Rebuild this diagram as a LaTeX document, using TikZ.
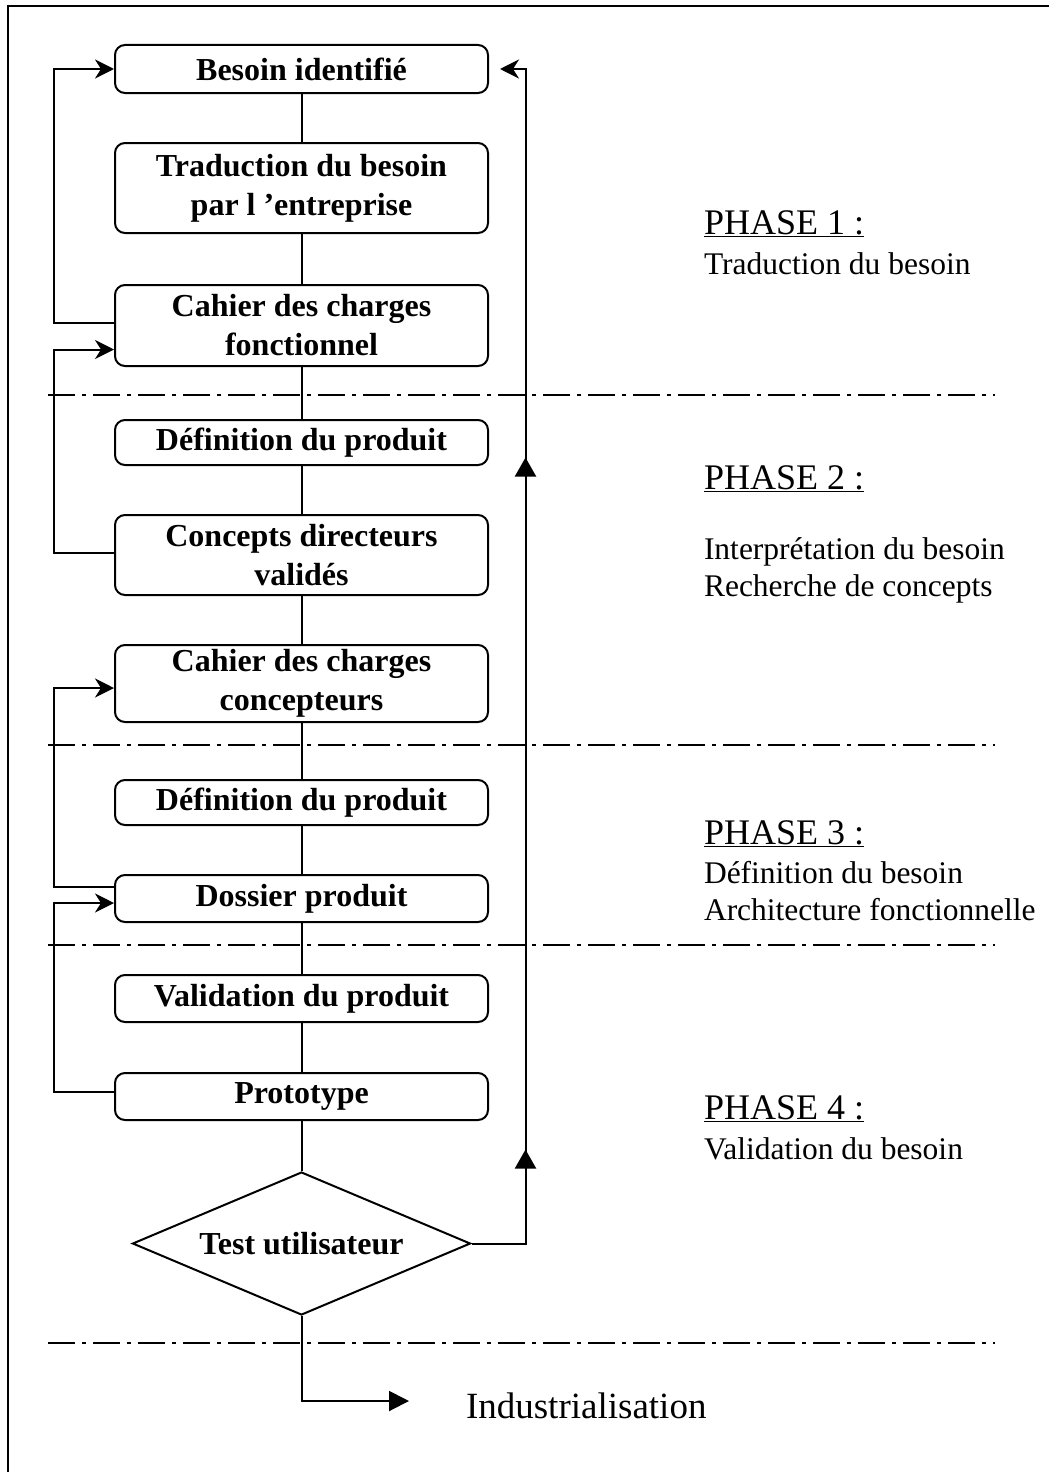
\documentclass[tikz,border=0pt]{standalone}
\usepackage{fontspec}
\setmainfont{Liberation Serif}
\usetikzlibrary{arrows.meta,shapes.geometric,decorations.markings}
\begin{document}
\begin{tikzpicture}[x=1pt,y=-1pt,
  line width=2pt,
  stepbox/.style={draw, line width=2pt, rounded corners=10pt, minimum width=373pt,
    inner sep=0pt, align=center, font=\fontsize{32}{39}\selectfont\bfseries},
  testbox/.style={draw, diamond, aspect=2.36, line width=2pt, minimum width=338pt,
    minimum height=143pt, inner sep=0pt, font=\fontsize{32}{39}\selectfont\bfseries},
  phasetitle/.style={anchor=base west, inner sep=0pt, font=\fontsize{36}{40}\selectfont},
  phasetext/.style={anchor=base west, inner sep=0pt, font=\fontsize{31.5}{36}\selectfont},
  separator/.style={line width=2pt, dash pattern=on 27pt off 7pt on 4pt off 7pt},
  link/.style={line width=2pt},
  feedback/.style={line width=2pt, -{Stealth[length=19pt,width=19pt,inset=6pt]}},
  upmark/.style={decoration={markings,
      mark=at position #1 with {\arrow{Triangle[length=19pt,width=21pt]}}}},
  returnpath/.style={line width=2pt, -{Stealth[length=19pt,width=19pt,inset=6pt]},
    postaction={decorate, upmark=148pt}, postaction={decorate, upmark=840pt}},
]
\useasboundingbox (0,0) rectangle (1049,1472);

% frame
\draw[line width=1.8pt] (8,1472) -- (8,6) -- (1049,6);

% phase separators
\foreach \yy in {395,745,945,1343}
  \draw[separator] (48,\yy) -- (995,\yy);

% process steps
\node[stepbox, minimum height=48pt] (b1) at (301.5,69) {Besoin identifié};
\node[stepbox, minimum height=90pt] (b2) at (301.5,188) {Traduction du besoin\\par l ’entreprise};
\node[stepbox, minimum height=81pt] (b3) at (301.5,325.5) {Cahier des charges\\fonctionnel};
\node[stepbox, minimum height=45pt] (b4) at (301.5,442.5) {Définition du produit};
\node[stepbox, minimum height=80pt] (b5) at (301.5,555) {Concepts directeurs\\validés};
\node[stepbox, minimum height=77pt] (b6) at (301.5,683.5) {Cahier des charges\\concepteurs};
\node[stepbox, minimum height=45pt] (b7) at (301.5,802.5) {Définition du produit};
\node[stepbox, minimum height=47pt] (b8) at (301.5,898.5) {Dossier produit};
\node[stepbox, minimum height=47pt] (b9) at (301.5,998.5) {Validation du produit};
\node[stepbox, minimum height=47pt] (b10) at (301.5,1096.5) {Prototype};
\node[testbox] (d) at (301.5,1243.5) {Test utilisateur};

% main chain
\draw[link] (b1) -- (b2);
\draw[link] (b2) -- (b3);
\draw[link] (b3) -- (b4);
\draw[link] (b4) -- (b5);
\draw[link] (b5) -- (b6);
\draw[link] (b6) -- (b7);
\draw[link] (b7) -- (b8);
\draw[link] (b8) -- (b9);
\draw[link] (b9) -- (b10);
\draw[link] (b10) -- (d);

% feedback loops on the left
\draw[feedback] ([yshift=2.5pt]b3.west) -- ++(-60,0) |- (b1.west);
\draw[feedback] ([yshift=2pt]b5.west) -- ++(-60,0) |- ([yshift=-24pt]b3.west);
\draw[feedback] ([yshift=11.5pt]b8.west) -- ++(-60,0) |- ([yshift=-4.5pt]b6.west);
\draw[feedback] ([yshift=4.5pt]b10.west) -- ++(-60,0) |- ([yshift=-4.5pt]b8.west);

% return from the user test to the start
\draw[returnpath] (d.east) -- ++(54,0) |- ([xshift=11pt]b1.east);

% exit towards industrialisation
\coordinate (indtip) at (409,1401);
\draw[link, -{Triangle[length=20pt,width=20pt]}] (d.south) |- (indtip);
\node[anchor=base west, inner sep=0pt, font=\fontsize{37}{40}\selectfont] (ind) at (465,1418) {Industrialisation};

% phase labels
\node[phasetitle] (p1) at (703,234) {\underline{PHASE 1 :}};
\node[phasetext] (p1a) at (703,274) {Traduction du besoin};
\node[phasetitle] (p2) at (703,489) {\underline{PHASE 2 :}};
\node[phasetext] (p2a) at (703,559) {Interprétation du besoin};
\node[phasetext] (p2b) at (703,596) {Recherche de concepts};
\node[phasetitle] (p3) at (703,844) {\underline{PHASE 3 :}};
\node[phasetext] (p3a) at (703,883) {Définition du besoin};
\node[phasetext] (p3b) at (703,920) {Architecture fonctionnelle};
\node[phasetitle] (p4) at (703,1119) {\underline{PHASE 4 :}};
\node[phasetext] (p4a) at (703,1159) {Validation du besoin};
\end{tikzpicture}
\end{document}
